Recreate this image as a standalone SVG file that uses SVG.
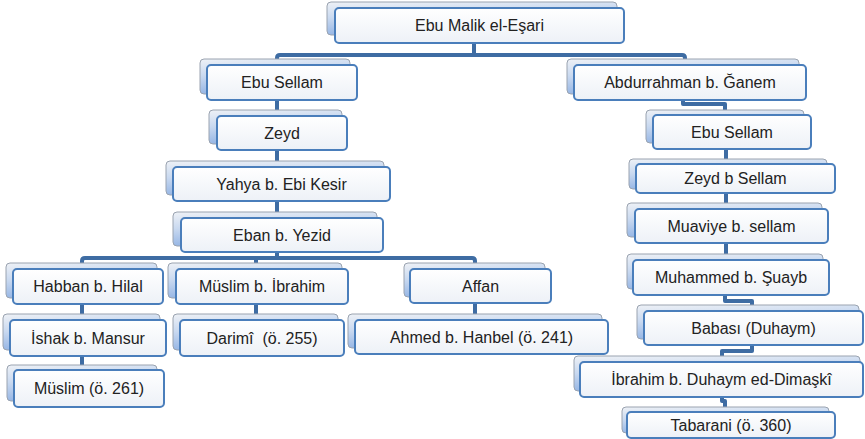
<svg xmlns="http://www.w3.org/2000/svg" width="865" height="439" viewBox="0 0 865 439">
<defs>
<linearGradient id="gb" x1="0" y1="0" x2="0.3" y2="1"><stop offset="0" stop-color="#EEF1F6"/><stop offset="0.45" stop-color="#C9D9F0"/><stop offset="1" stop-color="#8FB1E3"/></linearGradient>
<linearGradient id="gf" x1="0" y1="0" x2="0" y2="1"><stop offset="0" stop-color="#FFFFFF"/><stop offset="1" stop-color="#EDF1F7"/></linearGradient>
</defs>
<style>
.b{fill:url(#gb);stroke:#9AA3B0;stroke-width:1}
.f{fill:url(#gf);stroke:#4A7EBB;stroke-width:2}
.t{font-family:"Liberation Sans",Arial,sans-serif;font-size:16px;fill:#222222;text-anchor:middle;white-space:pre}
.c{fill:none;stroke:#3E6CA3;stroke-width:4;stroke-linejoin:round}
</style>
<rect width="865" height="439" fill="#FFFFFF"/>
<g id="connectors">
<path class="c" d="M474,40 V55 M277,63 V58 Q277,55 280,55 H682 Q685,55 685,58 V63"/>
<path class="c" d="M277,95 V258"/>
<path class="c" d="M82,266 V261 Q82,258 85,258 H472 Q475,258 475,261 V266 M256,258 V266"/>
<path class="c" d="M82,300 V368"/>
<path class="c" d="M256,300 V316"/>
<path class="c" d="M475,300 V316"/>
<path class="c" d="M683,95 V104 H725 V112"/>
<path class="c" d="M726,145 V256"/>
<path class="c" d="M725,290 V301 H752 V308"/>
<path class="c" d="M752,340 V351 H722 V358"/>
<path class="c" d="M722,392 V401 H725 V409"/>
</g>
<g id="n1"><rect class="b" x="327" y="2" width="290" height="33" rx="4"/><rect class="f" x="335" y="8" width="289" height="35" rx="4"/><text class="t" x="479.5" y="31">Ebu Malik el-Eşari</text></g>
<g id="n2"><rect class="b" x="200" y="59" width="150" height="35" rx="4"/><rect class="f" x="207" y="65" width="150" height="35" rx="4"/><text class="t" x="282" y="88">Ebu Sellam</text></g>
<g id="n3"><rect class="b" x="209" y="110" width="133" height="34" rx="4"/><rect class="f" x="217" y="116" width="130" height="34" rx="4"/><text class="t" x="282" y="139">Zeyd</text></g>
<g id="n4"><rect class="b" x="166" y="161" width="218" height="34" rx="4"/><rect class="f" x="173" y="167" width="217" height="34" rx="4"/><text class="t" x="281.5" y="190">Yahya b. Ebi Kesir</text></g>
<g id="n5"><rect class="b" x="173" y="212" width="204" height="34" rx="4"/><rect class="f" x="181" y="218" width="202" height="34" rx="4"/><text class="t" x="282" y="241">Eban b. Yezid</text></g>
<g id="n6"><rect class="b" x="6" y="263" width="151" height="35" rx="4"/><rect class="f" x="13" y="269" width="150" height="35" rx="4"/><text class="t" x="88" y="292">Habban b. Hilal</text></g>
<g id="n7"><rect class="b" x="168" y="263" width="174" height="35" rx="4"/><rect class="f" x="176" y="269" width="172" height="35" rx="4"/><text class="t" x="262" y="292">Müslim b. İbrahim</text></g>
<g id="n8"><rect class="b" x="404" y="263" width="141" height="34" rx="4"/><rect class="f" x="410" y="269" width="141" height="34" rx="4"/><text class="t" x="480.5" y="292">Affan</text></g>
<g id="n9"><rect class="b" x="3" y="314" width="157" height="36" rx="4"/><rect class="f" x="10" y="320" width="156" height="36" rx="4"/><text class="t" x="88" y="344">İshak b. Mansur</text></g>
<g id="n10"><rect class="b" x="173" y="314" width="165" height="36" rx="4"/><rect class="f" x="180" y="320" width="164" height="36" rx="4"/><text class="t" x="262" y="344">Darimî  (ö. 255)</text></g>
<g id="n11"><rect class="b" x="348" y="314" width="254" height="34" rx="4"/><rect class="f" x="355" y="320" width="253" height="34" rx="4"/><text class="t" x="481.5" y="343">Ahmed b. Hanbel (ö. 241)</text></g>
<g id="n12"><rect class="b" x="7" y="365" width="150" height="36" rx="4"/><rect class="f" x="14" y="370" width="150" height="37" rx="4"/><text class="t" x="89" y="394">Müslim (ö. 261)</text></g>
<g id="n13"><rect class="b" x="567" y="59" width="232" height="35" rx="4"/><rect class="f" x="574" y="65" width="232" height="35" rx="4"/><text class="t" x="690" y="88">Abdurrahman b. Ğanem</text></g>
<g id="n14"><rect class="b" x="646" y="110" width="158" height="33" rx="4"/><rect class="f" x="653" y="115" width="158" height="34" rx="4"/><text class="t" x="732" y="138">Ebu Sellam</text></g>
<g id="n15"><rect class="b" x="629" y="159" width="198" height="30" rx="4"/><rect class="f" x="636" y="164" width="199" height="29" rx="4"/><text class="t" x="735.5" y="184">Zeyd b Sellam</text></g>
<g id="n16"><rect class="b" x="627" y="203" width="195" height="34" rx="4"/><rect class="f" x="635" y="209" width="193" height="34" rx="4"/><text class="t" x="731.5" y="232">Muaviye b. sellam</text></g>
<g id="n17"><rect class="b" x="627" y="254" width="196" height="35" rx="4"/><rect class="f" x="633" y="260" width="196" height="35" rx="4"/><text class="t" x="731" y="283">Muhammed b. Şuayb</text></g>
<g id="n18"><rect class="b" x="637" y="305" width="222" height="34" rx="4"/><rect class="f" x="644" y="311" width="219" height="34" rx="4"/><text class="t" x="753.5" y="334">Babası (Duhaym)</text></g>
<g id="n19"><rect class="b" x="574" y="356" width="286" height="35" rx="4"/><rect class="f" x="580" y="362" width="283" height="35" rx="4"/><text class="t" x="721.5" y="385">İbrahim b. Duhaym ed-Dimaşkî</text></g>
<g id="n20"><rect class="b" x="622" y="407" width="207" height="26" rx="4"/><rect class="f" x="627" y="412" width="208" height="26" rx="4"/><text class="t" x="731" y="431">Tabarani (ö. 360)</text></g>
</svg>
